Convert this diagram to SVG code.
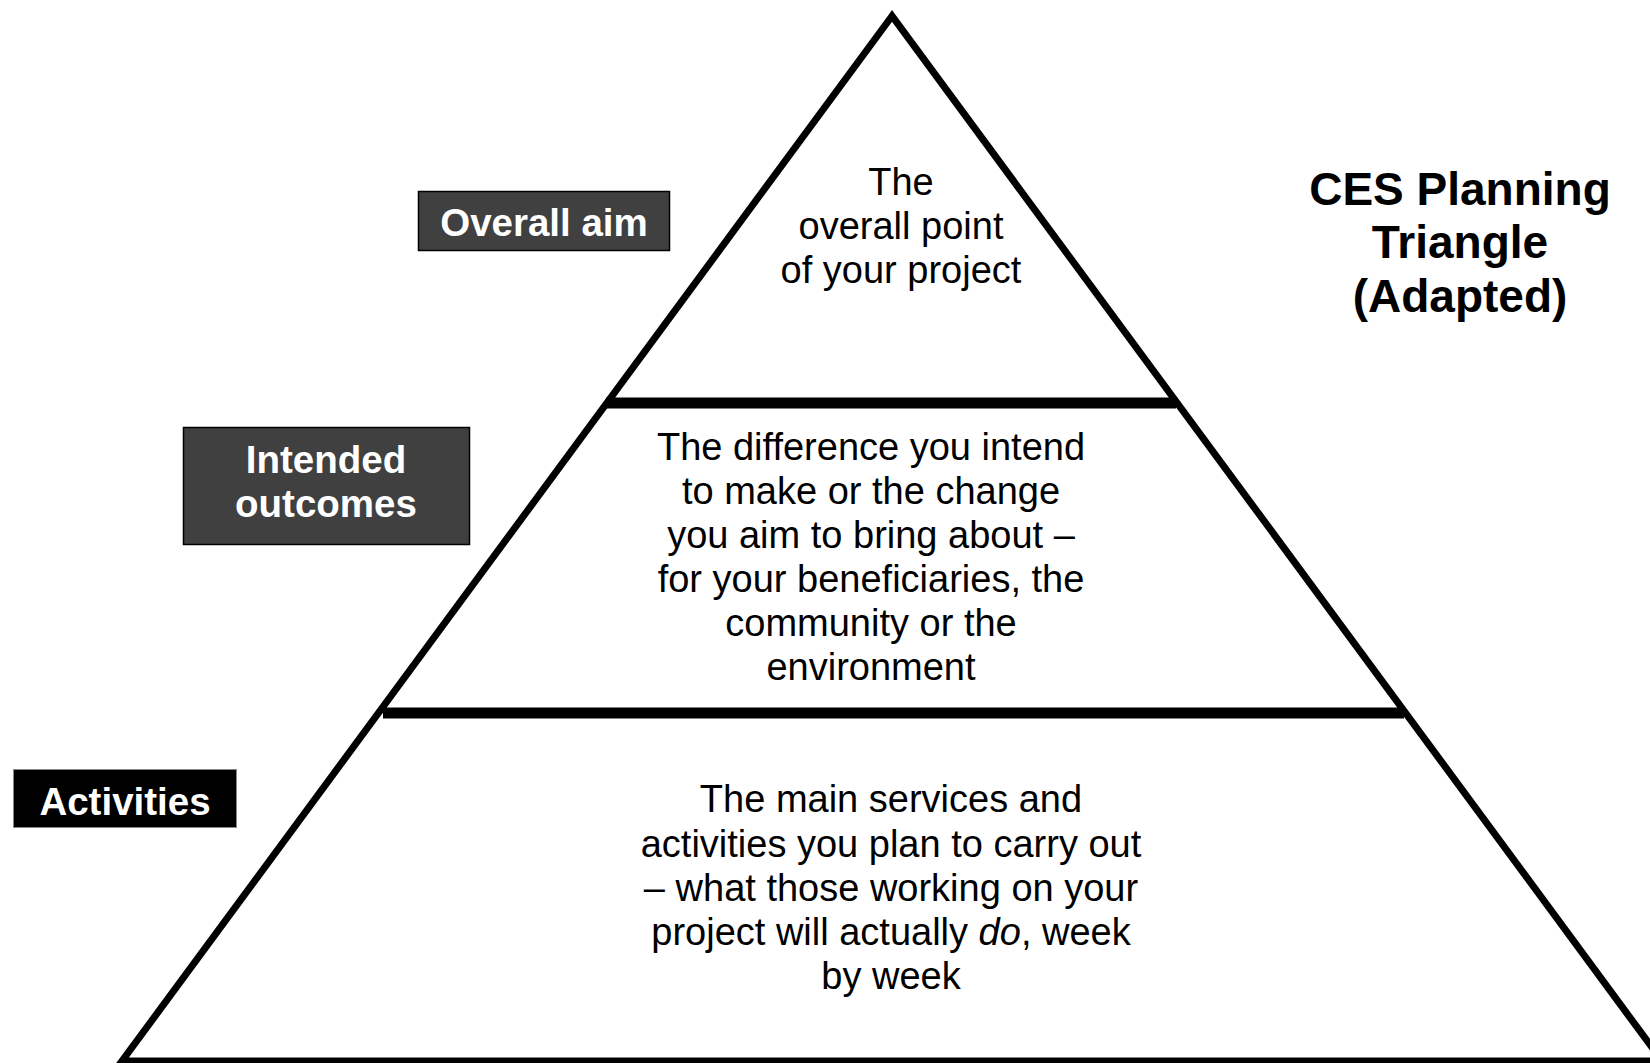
<svg xmlns="http://www.w3.org/2000/svg" width="1650" height="1063" viewBox="0 0 1650 1063">
<style>
.body{font-family:"Liberation Sans",Arial,sans-serif;font-size:38px;fill:#000;text-anchor:middle}
.lbl{font-family:"Liberation Sans",Arial,sans-serif;font-weight:bold;font-size:38.5px;fill:#fff;text-anchor:middle}
.title{font-family:"Liberation Sans",Arial,sans-serif;font-weight:bold;font-size:46px;fill:#000;text-anchor:middle}
</style>
<rect width="1650" height="1063" fill="#fff"/>
<g id="triangle">
<polygon points="892,16 122,1061 1662,1061" fill="none" stroke="#000" stroke-width="7" stroke-linejoin="miter"/>
</g>
<g id="connectors">
<line x1="606" y1="403" x2="1176" y2="403" stroke="#000" stroke-width="11"/>
<line x1="383" y1="713" x2="1404" y2="713" stroke="#000" stroke-width="11"/>
</g>
<g id="overall-aim-text">
<text class="body" x="901" y="195">The</text>
<text class="body" x="901" y="239">overall point</text>
<text class="body" x="901" y="283">of your project</text>
</g>
<g id="outcomes-text">
<text class="body" x="871" y="460">The difference you intend</text>
<text class="body" x="871" y="504">to make or the change</text>
<text class="body" x="871" y="548">you aim to bring about –</text>
<text class="body" x="871" y="592">for your beneficiaries, the</text>
<text class="body" x="871" y="636">community or the</text>
<text class="body" x="871" y="680">environment</text>
</g>
<g id="activities-text">
<text class="body" x="891" y="812">The main services and</text>
<text class="body" x="891" y="857">activities you plan to carry out</text>
<text class="body" x="891" y="901">– what those working on your</text>
<text class="body" x="891" y="945">project will actually <tspan font-style="italic">do</tspan>, week</text>
<text class="body" x="891" y="989">by week</text>
</g>
<g id="label-overall-aim">
<rect x="418.5" y="191.5" width="251" height="59" fill="#404040" stroke="#000" stroke-width="1.5"/>
<text class="lbl" x="544" y="236">Overall aim</text>
</g>
<g id="label-intended-outcomes">
<rect x="183.5" y="427.5" width="286" height="117" fill="#404040" stroke="#000" stroke-width="1.5"/>
<text class="lbl" x="326" y="473">Intended</text>
<text class="lbl" x="326" y="517">outcomes</text>
</g>
<g id="label-activities">
<rect x="13.5" y="769.5" width="223" height="58" fill="#000" stroke="#888" stroke-width="1"/>
<text class="lbl" x="125" y="815">Activities</text>
</g>
<g id="title">
<text class="title" x="1460" y="205">CES Planning</text>
<text class="title" x="1460" y="258">Triangle</text>
<text class="title" x="1460" y="312">(Adapted)</text>
</g>
</svg>
